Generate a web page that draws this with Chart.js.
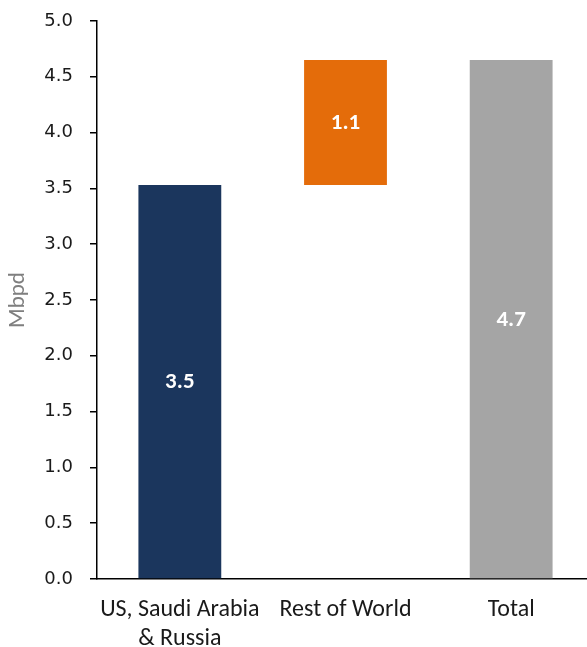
<!DOCTYPE html>
<html>
<head>
<meta charset="utf-8">
<script src="https://cdn.jsdelivr.net/npm/chart.js@4/dist/chart.umd.min.js"></script>
<style>
  html, body { margin: 0; padding: 0; background: #ffffff; overflow: hidden; }
  /* the plot runs slightly past the right edge of the window, as in the original layout */
  #wrap { width: 594px; height: 647px; position: relative; }
</style>
</head>
<body>
<div id="wrap"><canvas id="chart"></canvas></div>
<script>
// Waterfall: contribution of each group to total supply growth (Mbpd)
const categories = [["US, Saudi Arabia", "& Russia"], "Rest of World", "Total"];
const values = [3.53, 1.12, 4.65];          // bar heights
const kinds = ["step", "step", "total"];    // step bars float on the running sum
const barColors = ["#1B365D", "#E46C0A", "#A5A5A5"];
const yTickMin = 0, yTickMax = 5, yTickStep = 0.5;

// build floating [start, end] ranges from the values
let running = 0;
const ranges = values.map((v, i) => {
  if (kinds[i] === "total") return [0, v];
  const r = [running, running + v];
  running += v;
  return r;
});

const LABEL_FONT = "Carlito, Calibri, Lato, sans-serif";

// white value labels centred in each bar
const barValueLabels = {
  id: "barValueLabels",
  afterDatasetsDraw(chart) {
    const ctx = chart.ctx;
    const meta = chart.getDatasetMeta(0);
    ctx.save();
    ctx.fillStyle = "#ffffff";
    ctx.font = "bold 23px " + LABEL_FONT;
    ctx.textAlign = "center";
    ctx.textBaseline = "middle";
    meta.data.forEach((bar, i) => {
      const c = bar.getCenterPoint();
      ctx.fillText(values[i].toFixed(1), c.x, c.y + 1);
    });
    ctx.restore();
  }
};

new Chart(document.getElementById("chart"), {
  type: "bar",
  data: {
    labels: categories,
    datasets: [{
      data: ranges,
      backgroundColor: barColors,
      borderWidth: 0,
      barPercentage: 0.5,
      categoryPercentage: 1.0
    }]
  },
  options: {
    responsive: true,
    maintainAspectRatio: false,
    animation: false,
    layout: { padding: { top: 21, right: 0, bottom: 0, left: 0 } },
    plugins: {
      legend: { display: false },
      tooltip: { enabled: false }
    },
    scales: {
      x: {
        grid: { display: false, drawTicks: false },
        border: { display: true, color: "#000000", width: 1.5 },
        ticks: {
          color: "#1a1a1a",
          padding: 16,
          maxRotation: 0,
          autoSkip: false,
          font: { family: LABEL_FONT, size: 24, lineHeight: 1.22 }
        },
        afterFit(scale) { scale.height = 68; }
      },
      y: {
        min: yTickMin,
        max: yTickMax,
        grid: {
          drawOnChartArea: false,
          drawTicks: true,
          tickLength: 7,
          color: "#000000",
          lineWidth: 1.5
        },
        border: { display: true, color: "#000000", width: 1.5 },
        ticks: {
          stepSize: yTickStep,
          color: "#1a1a1a",
          padding: 17,
          font: { family: "DejaVu Sans", size: 18 },
          callback: (v) => Number(v).toFixed(1)
        },
        title: {
          display: true,
          text: "Mbpd",
          color: "#7f7f7f",
          font: { family: LABEL_FONT, size: 23 },
          padding: { top: 4, bottom: 4 }
        },
        afterFit(scale) {
          scale.width = 97;
          // only half a label height is needed above/below the end ticks
          scale.paddingTop = 11;
          scale.paddingBottom = 11;
        }
      }
    }
  },
  plugins: [barValueLabels]
});
</script>
</body>
</html>
